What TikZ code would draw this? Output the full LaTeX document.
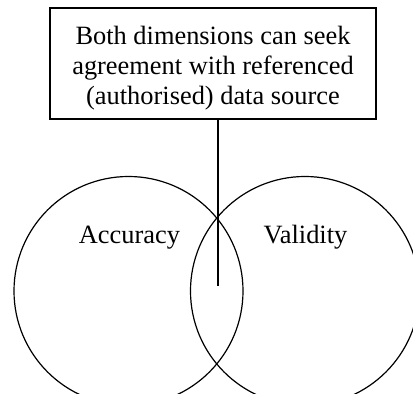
\documentclass[tikz,border=0pt]{standalone}
\usepackage{fontspec}
\setmainfont{Liberation Serif}
\usetikzlibrary{positioning}

\begin{document}
\begin{tikzpicture}[x=1pt, y=-1pt, font=\fontsize{26.4}{30}\selectfont]
  \tikzset{note/.style={draw, line width=1.6pt, align=center, inner sep=0pt, minimum width=326pt, minimum height=111pt},set/.style={draw, circle, line width=1.2pt, inner sep=0pt, minimum size=229pt},setlabel/.style={anchor=base, inner sep=0pt}}
  \useasboundingbox (0,0) rectangle (413,394);
  \node[note] (source) at (213,63.5) {\rule{0pt}{27pt}Both dimensions can seek\\agreement with referenced\\(authorised) data source\rule[-5pt]{0pt}{5pt}};
  \node[set] (accuracy) at (128.5,291) {};
  \node[set] (validity) at (305,291) {};
  \node[setlabel] (acclabel) at (129.5,243) {Accuracy};
  \node[setlabel] (vallabel) at (305.5,243) {Validity};
  \coordinate (overlap) at (218,286);
  \draw[line width=1.1pt] (source.south -| overlap) -- (overlap);
\end{tikzpicture}
\end{document}
